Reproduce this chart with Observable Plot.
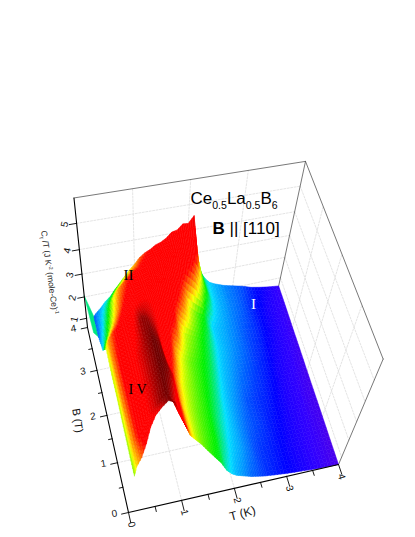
<!DOCTYPE html>
<html>
<head>
<meta charset="utf-8">
<style>html,body{margin:0;padding:0;background:#fff}svg{display:block}</style>
<script src="https://cdn.jsdelivr.net/npm/d3@7"></script>
<script src="https://cdn.jsdelivr.net/npm/@observablehq/plot@0.6"></script>
</head>
<body>
<script>
// ---- data ----
const temps = [0.15,0.2,0.3,0.4,0.5,0.6,0.7,0.8,0.9,1.0,1.1,1.2,1.3,1.4,1.5,1.6,1.7,1.8,1.9,2.0,2.1,2.2,2.3,2.4,2.5,2.6,2.8,3.0,3.2,3.4,3.6,3.8,4.0];
const fields = [0,0.5,1,1.5,2,2.5,3,3.5,4];
// lowest field actually covered at each temperature (front edge of the sheet)
const frontField = [0.08,0.12,0.16,0.25,0.38,0.46,0.48,0.42,0.42,0.45,0.42,0.42,0.42,0.38,0.28,0.18,0.08,0.03,0,0,0,0,0,0,0,0,0,0,0,0,0,0,0];
const cFront = [2.5,2.85,3.2,3.6,4.0,4.3,4.55,5.0,4.85,4.2,3.6,3.0,2.7,2.5,2.35,2.22,2.1,1.75,1.55,1.38,1.28,1.18,1.08,1.02,0.95,0.9,0.82,0.75,0.7,0.65,0.6,0.57,0.55];
const cB05 = [2.5,3.0,3.5,3.95,4.3,4.6,4.9,5.05,4.65,4.05,3.5,3.0,2.68,2.5,2.38,2.28,2.18,1.95,1.75,1.55,1.42,1.32,1.2,1.1,0.98,0.92,0.85,0.77,0.7,0.65,0.6,0.58,0.55];
const cB10 = [2.55,3.05,3.55,3.95,4.3,4.6,4.85,5.1,5.0,4.6,3.5,2.95,2.7,2.55,2.42,2.32,2.22,2.05,1.85,1.68,1.52,1.38,1.25,1.15,1.05,1.0,0.9,0.8,0.72,0.66,0.61,0.58,0.56];
const cB15 = [2.6,3.1,3.6,3.95,4.3,4.6,4.85,5.1,4.9,4.1,3.6,3.15,2.8,2.62,2.5,2.38,2.28,2.18,2.02,1.82,1.6,1.45,1.32,1.22,1.12,1.02,0.92,0.85,0.75,0.67,0.62,0.58,0.56];
const cB20 = [2.6,3.1,3.55,3.8,4.05,4.35,4.9,4.85,4.65,4.35,3.95,3.6,3.1,2.8,2.6,2.45,2.35,2.25,2.15,2.0,1.78,1.55,1.42,1.32,1.22,1.14,1.0,0.9,0.8,0.69,0.63,0.59,0.56];
const cB25 = [2.7,3.05,3.4,3.6,3.85,4.1,4.3,4.4,4.4,4.3,4.15,4.0,3.75,3.55,3.0,2.7,2.55,2.42,2.28,2.15,1.95,1.72,1.52,1.42,1.32,1.24,1.1,0.95,0.85,0.72,0.65,0.6,0.57];
const cB30 = [1.5,1.85,2.4,2.85,3.2,3.5,3.7,3.85,3.95,4.05,4.1,4.1,4.05,3.95,3.85,3.55,3.2,2.78,2.55,2.35,2.22,1.85,1.55,1.45,1.38,1.3,1.15,1.0,0.9,0.76,0.67,0.61,0.57];
const cB35 = [1.05,1.3,1.8,2.3,2.8,3.1,3.3,3.5,3.65,3.7,3.8,3.85,3.9,4.0,4.0,4.0,3.95,3.85,3.65,3.4,2.95,2.5,2.15,1.7,1.5,1.38,1.2,1.08,0.92,0.78,0.68,0.62,0.58];
const cB40 = [1.0,1.15,1.35,1.6,1.78,2.05,2.3,2.55,2.8,3.0,3.25,3.4,3.5,3.65,3.72,3.85,4.05,4.1,4.3,4.28,4.55,3.0,2.1,1.75,1.52,1.4,1.22,1.1,0.98,0.82,0.72,0.64,0.58];
const cRows = [cFront,cB05,cB10,cB15,cB20,cB25,cB30,cB35,cB40];
// thin spike along T = 0 at the top field
const spikeC = 2.05;

const tTicks = [0,1,2,3,4], tMinor = [0.5,1.5,2.5,3.5];
const bTicks = [0,1,2,3,4], bMinor = [0.5,1.5,2.5,3.5];
const cTicks = [1,2,3,4,5];
const cMin = 0.55, cMax = 5.9;
const colorLevels = [0.52,0.6,0.75,1.0,1.3,1.6,2.2,2.8,3.1,3.5,4.3,4.55,4.85,5.1];
const colorStops = ["#5a00e0","#3000ff","#0000ff","#0050ff","#00a0ff","#00e0ff","#00f000","#ffff00","#ff9000","#ff0000","#ff0000","#d80000","#980000","#6a0000"];

// ---- camera: perspective map from (T,B,C) to page units ----
function project(T,B,C){
  const u=T/4, v=B/4, w=(C-cMin)/(cMax-cMin);
  const d=1+0.0153*u+0.1043*v-0.195*w;
  return {
    x:(215.2*u-31.9*v+128-29.3*w)/d,
    y:(-40.9*u-150.9*v+512-177*w)/d + w*v*(-5+11*u)
  };
}
const P=(T,B,C,extra={})=>({...project(T,B,C),...extra});

// ---- surface cells, far to near ----
const cells=[];
const nodeB=(i,j)=> j===0 ? frontField[i] : fields[j];
const subB=6, subT=3; // shading facets per grid cell
function addCell(corners,c,key){ // corners: [[T,B,C]...]
  corners.concat([corners[0]]).forEach(p=>cells.push(P(p[0],p[1],p[2],{id:key,c})));
}
const order=[];
for(let j=fields.length-2;j>=0;j--){
  const ii=d3.range(temps.length-1).sort((a,b)=>Math.abs(temps[b]-0.3)-Math.abs(temps[a]-0.3));
  for(const i of ii) order.push([i,j]);
}
let key=0;
// spike strip first
addCell([[0,4,spikeC],[temps[0],4,cB40[0]],[temps[0],3.5,cB35[0]],[0.07,3.6,1.1]],1.9,key++);
for(const [i,j] of order){
  const q=(a,b)=>{ // shading point inside the cell
    const B0=nodeB(i,j)*(1-a)+nodeB(i+1,j)*a, B1=fields[j+1];
    const T=temps[i]*(1-a)+temps[i+1]*a;
    const C0=cRows[j][i]*(1-a)+cRows[j][i+1]*a, C1=cRows[j+1][i]*(1-a)+cRows[j+1][i+1]*a;
    return [T,B0*(1-b)+B1*b,C0*(1-b)+C1*b];
  };
  const dir=temps[i]<0.3;
  for(let s=subB-1;s>=0;s--){
    for(let r0=0;r0<subT;r0++){
      const r=dir?r0:subT-1-r0;
      const p=[q(r/subT,s/subB),q((r+1)/subT,s/subB),q((r+1)/subT,(s+1)/subB),q(r/subT,(s+1)/subB)];
      addCell(p,(p[0][2]+p[1][2]+p[2][2]+p[3][2])/4,key++);
    }
  }
}

// ---- box, grids, ticks ----
const seg=(a,b,id)=>[P(...a,{id}),P(...b,{id})];
const wallGrid=[], floorGrid=[];
let g=0;
for(const t of tTicks.slice(1,4)){
  wallGrid.push(...seg([t,4,cMin],[t,4,cMax],g++));
  floorGrid.push(...seg([t,0,cMin],[t,4,cMin],g++));
}
for(const c of cTicks){
  wallGrid.push(...seg([0,4,c],[4,4,c],g++));
  wallGrid.push(...seg([4,4,c],[4,0,c],g++));
}
for(const b of bTicks.slice(1,4)){
  floorGrid.push(...seg([0,b,cMin],[4,b,cMin],g++));
  wallGrid.push(...seg([4,b,cMin],[4,b,cMax],g++));
}
const boxGray=[...seg([0,4,cMax],[4,4,cMax],g++),...seg([4,4,cMax],[4,0,cMax],g++),...seg([4,0,cMax],[4,0,cMin],g++),...seg([4,4,cMin],[4,4,cMax],g++)];
const axes=[...seg([0,0,cMin],[4,0,cMin],g++),...seg([0,0,cMin],[0,4,cMin],g++),...seg([0,4,cMin],[0,4,cMax],g++)];
const ticks=[];
const tick=(a,b)=>ticks.push(...seg(a,b,g++));
tTicks.forEach(t=>tick([t,0,cMin],[t,-0.2,cMin]));
tMinor.forEach(t=>tick([t,0,cMin],[t,-0.1,cMin]));
bTicks.forEach(b=>tick([0,b,cMin],[-0.13,b,cMin]));
bMinor.forEach(b=>tick([0,b,cMin],[-0.07,b,cMin]));
cTicks.forEach(c=>tick([0,4,c],[-0.13,4,c]));

const ff="Liberation Sans, Arial, sans-serif", fs="Liberation Serif, Times New Roman, serif";
const rich={
 "Ce0.5La0.5B6":[["Ce",0],["0.5",1],["La",0],["0.5",1],["B",0],["6",1]],
 "B || [110]":[["B",2],[" || [110]",0]],
 "Cf /T (J K-2 (mole-Ce)-1)":[["C",0],["f",1],[" /T (J K",0],["-2",3],[" (mole-Ce)",0],["-1",3]]
};
const line=(d,o)=>Plot.line(d,{x:"x",y:"y",z:"id",...o});
const label=(t,x,y,o)=>Plot.text([{t,x,y}],{x:"x",y:"y",text:"t",...o});

const plot=Plot.plot({
  width:415,height:537,margin:0,
  style:{background:"#fff"},
  x:{domain:[0,415],range:[0,415],axis:null},
  y:{domain:[0,537],range:[0,537],axis:null},
  color:{type:"linear",domain:colorLevels,range:colorStops,clamp:true},
  marks:[
    line(wallGrid,{stroke:()=>"#d8d8d8",strokeWidth:0.7,strokeDasharray:"2,1.5"}),
    line(floorGrid,{stroke:()=>"#d8d8d8",strokeWidth:0.7,strokeDasharray:"2,1.5"}),
    line(boxGray,{stroke:()=>"#555",strokeWidth:0.8}),
    line(cells,{fill:"c",stroke:"c",strokeWidth:0.5}),
    line(axes,{stroke:()=>"#000",strokeWidth:1.1}),
    line(ticks,{stroke:()=>"#000",strokeWidth:0.9}),
    Plot.text(tTicks.map(t=>P(t,0,cMin,{t})),{x:"x",y:"y",text:"t",dx:3,dy:12,rotate:75,fontSize:10,fontFamily:ff,fill:"#111"}),
    Plot.text(bTicks.map(t=>P(0,t,cMin,{t})),{x:"x",y:"y",text:"t",dx:-14,dy:1,rotate:-10,fontSize:10,fontFamily:ff,fill:"#111"}),
    Plot.text(cTicks.map(t=>P(0,4,t,{t})),{x:"x",y:"y",text:"t",dx:-12,dy:1,rotate:-78,fontSize:10,fontFamily:ff,fill:"#111"}),
    label("B (T)",77,420,{rotate:82,fontSize:11,fontFamily:ff,fill:"#111"}),
    label("T (K)",242,513,{rotate:-15,fontSize:12,fontFamily:ff,fill:"#111"}),
    label("Cf /T (J K-2 (mole-Ce)-1)",49,272,{rotate:82,fontSize:8.5,fontFamily:ff,fill:"#222"}),
    label("Ce0.5La0.5B6",190,198,{textAnchor:"start",fontSize:17,fontFamily:ff,fill:"#000"}),
    label("B || [110]",212,228,{textAnchor:"start",fontSize:17,fontFamily:ff,fill:"#000"}),
    label("I",253,304,{fontSize:15,fontFamily:fs,fill:"#fff"}),
    label("II",128,275,{fontSize:15,fontFamily:fs,fill:"#000"}),
    label("I V",137,389,{fontSize:14,fontFamily:fs,fill:"#000"})
  ]
});
d3.select(plot).selectAll("text").each(function(){
  const r=rich[this.textContent];
  if(!r) return;
  const size=parseFloat(d3.select(this.parentNode).attr("font-size")||this.getAttribute("font-size"))||12;
  const el=d3.select(this); el.text(null);
  let last=0;
  for(const [s,k] of r){
    const sh = k===1 ? size*0.3 : k===3 ? -size*0.35 : 0;
    const ts=el.append("tspan").text(s).attr("dy",sh-last);
    if(k===1||k===3) ts.attr("font-size",size*0.62);
    if(k===2) ts.attr("font-weight","bold");
    last=sh;
  }
});
document.body.appendChild(plot);
</script>
</body>
</html>
